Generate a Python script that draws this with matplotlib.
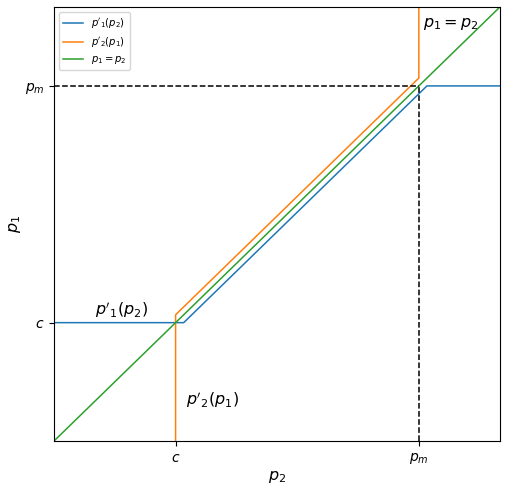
import numpy as np
import matplotlib.pyplot as plt

# model values
c = 3.0
p_m = 9.0
eps = 0.2
p_max = 11.0

# best response of firm 1 to p2: (p2, p1) breakpoints
br1_p2 = [0.0, c + eps, p_m + eps, p_max]
br1_p1 = [c, c, p_m, p_m]

# best response of firm 2 to p1: (p1, p2) breakpoints
br2_p1 = [0.0, c + eps, p_m + eps, p_max]
br2_p2 = [c, c, p_m, p_m]

diag = [0.0, p_max]

fig = plt.figure(figsize=(5.07, 4.91), dpi=100)
ax = fig.add_axes([0.1065, 0.1018, 0.8795, 0.8839])

lw = 1.1
ax.plot(br1_p2, br1_p1, lw=lw, label="$p'_1(p_2)$")
ax.plot(br2_p2, br2_p1, lw=lw, label="$p'_2(p_1)$")
ax.plot(diag, diag, lw=lw, label='$p_1 = p_2$')

ax.plot([0, p_m], [p_m, p_m], linestyle='--', c='k', lw=lw)
ax.plot([p_m, p_m], [0, p_m], linestyle='--', c='k', lw=lw)

ax.text(1.0, c + 0.2, "$p'_1(p_2)$", fontsize=11.5)
ax.text(c + 0.25, 0.92, "$p'_2(p_1)$", fontsize=11.5)
ax.text(p_m + 0.1, p_max - 0.5, '$p_1 = p_2$', fontsize=11.5)

ax.set_xlim(0, p_max)
ax.set_ylim(0, p_max)
ax.tick_params(width=0.8, length=3.5)
for s in ax.spines.values():
    s.set_linewidth(0.8)
ax.set_xticks([c, p_m])
ax.set_xticklabels(['$c$', '$p_m$'], fontsize=10)
ax.set_yticks([c, p_m])
ax.set_yticklabels(['$c$', '$p_m$'], fontsize=10)
ax.set_xlabel('$p_2$', fontsize=11.5, labelpad=2)
ax.set_ylabel('$p_1$', fontsize=11.5, labelpad=1)
ax.legend(loc='upper left', fontsize=7.2)

fig.savefig('out.png', dpi=100)
